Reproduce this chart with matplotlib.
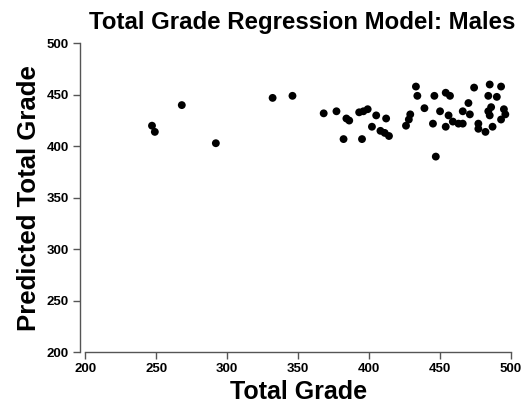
import numpy as np
import matplotlib
matplotlib.use("Agg")
import matplotlib.pyplot as plt

plt.rcParams['font.family'] = ['Liberation Sans', 'DejaVu Sans']

# total grade (x) vs predicted total grade (y)
total_grade = [247, 249, 268, 292, 332, 346,
               368, 377, 384, 386, 382, 393, 396, 399, 395, 405, 412, 402, 408, 411, 414,
               433, 434, 429, 428, 426, 439, 446, 454, 457, 450, 445, 456, 454, 459, 463,
               466, 466, 470, 471, 474, 477, 477, 482, 487, 485, 493, 484, 490, 486, 485,
               484, 495, 496, 493, 447]
predicted = [420, 414, 440, 403, 447, 449,
             432, 434, 427, 425, 407, 433, 434, 436, 407, 430, 427, 419, 415, 413, 410,
             458, 449, 431, 426, 420, 437, 449, 452, 449, 434, 422, 430, 419, 424, 422,
             422, 434, 442, 431, 457, 422, 417, 414, 419, 460, 458, 449, 448, 438, 430,
             434, 436, 431, 426, 390]

x_ticks = [200, 250, 300, 350, 400, 450, 500]
y_ticks = [200, 250, 300, 350, 400, 450, 500]

fig = plt.figure(figsize=(5.22, 4.05), dpi=100)
ax = fig.add_axes([85.3/522, 52.7/405, 425.7/522, 309/405])

ax.scatter(total_grade, predicted, s=32, color='black', edgecolors='none', zorder=3, clip_on=False)

ax.set_xlim(200, 500)
ax.set_ylim(200, 500)
ax.set_xticks(x_ticks)
ax.set_yticks(y_ticks)

for side in ['top', 'right']:
    ax.spines[side].set_visible(False)
for side in ['left', 'bottom']:
    ax.spines[side].set_color('#555555')
    ax.spines[side].set_linewidth(1.0)
ax.spines['left'].set_position(('outward', 4))

ax.tick_params(direction='out', length=5, width=1, color='#555555', labelsize=9.5, pad=3)
for lab in ax.get_xticklabels() + ax.get_yticklabels():
    lab.set_fontweight('bold')

ax.set_xlabel('Total Grade', fontsize=18, fontweight='bold', labelpad=3)
ax.set_ylabel('Predicted Total Grade', fontsize=18.5, fontweight='bold', labelpad=4)
ax.set_title('Total Grade Regression Model: Males', fontsize=17.3, fontweight='bold', pad=10, x=0.51)

fig.savefig('out.png', dpi=100)
